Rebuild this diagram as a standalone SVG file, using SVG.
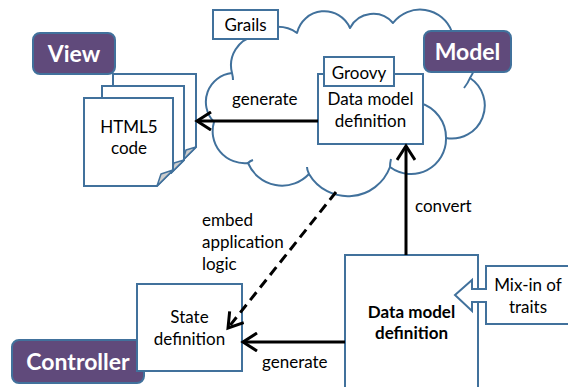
<svg xmlns="http://www.w3.org/2000/svg" width="568" height="387" viewBox="0 0 568 387">
<defs>
<style>
.box{fill:#fff;stroke:#41719c;stroke-width:2}
.tag{fill:#604a7b;stroke:#41719c;stroke-width:2}
.fold{fill:#cdcdcd;stroke:#41719c;stroke-width:1.5;stroke-linejoin:round}
.cloud{fill:#fff;stroke:#41719c;stroke-width:2;stroke-linejoin:round}
.tick{fill:none;stroke:#41719c;stroke-width:2}
.t{font-family:Lato,"Liberation Sans",sans-serif;font-size:17px;fill:#000;text-anchor:middle}
.tl{font-family:Lato,"Liberation Sans",sans-serif;font-size:17px;fill:#000}
.b{font-weight:bold}
.w{font-family:Lato,"Liberation Sans",sans-serif;font-size:23px;font-weight:bold;fill:#fff;text-anchor:middle}
.arr{fill:none;stroke:#000;stroke-width:3;marker-end:url(#open)}
.dash{stroke-dasharray:10 6}
</style>
<marker id="open" viewBox="0 0 20 20" markerWidth="20" markerHeight="20" refX="17" refY="10" orient="auto" markerUnits="userSpaceOnUse">
<path d="M3,1 L17,10 L3,19" fill="none" stroke="#000" stroke-width="3"/>
</marker>
</defs>

<g id="cloud">
<path class="cloud" d="M255,36 A33 33 0 0 1 297,33 A28 28 0 0 1 350,28 A26 26 0 0 1 393,23 A34 34 0 0 1 452,32 A30 30 0 0 1 470,78 A33 33 0 0 1 446,138 A35 35 0 0 1 390,167 A45 45 0 0 1 309,174 A37 37 0 0 1 248,163 A32 32 0 0 1 214,122 A29 29 0 0 1 232,73 A30 30 0 0 1 255,36 Z"/>
<path class="tick" d="M232,73 Q233,77 233,80 M248,163 Q250,161 253,160 M309,174 Q307,170 307,167 M390,167 Q390,163 391,159 M446,138 A36 36 0 0 0 420,103 M470,78 Q468,83 464,88"/>
</g>

<g id="grails">
<rect class="box" x="213" y="10" width="65" height="29"/>
<text class="t" x="245.5" y="31">Grails</text>
</g>

<g id="view">
<rect class="tag" x="33" y="33" width="82" height="41" rx="7"/>
<text class="w" x="74" y="62">View</text>
</g>

<g id="model">
<rect class="tag" x="424" y="31" width="87" height="41" rx="7"/>
<text class="w" x="467.5" y="60">Model</text>
</g>

<g id="controller">
<rect class="tag" x="12" y="340" width="132" height="43" rx="7"/>
<text class="w" x="78" y="370">Controller</text>
</g>

<g id="html5">
<path class="box" d="M113,74 H196 V147 L183,160 H113 Z"/>
<path class="fold" d="M183,160 L186,150 L196,147 Z"/>
<path class="box" d="M102,86 H184 V160 L171,173 H102 Z"/>
<path class="fold" d="M171,173 L174,163 L184,160 Z"/>
<path class="box" d="M84,98 H173 V170 L157,186 H84 Z"/>
<path class="fold" d="M157,186 L161,174 L173,170 Z"/>
<text class="t" x="129" y="133">HTML5</text>
<text class="t" x="129" y="154">code</text>
</g>

<g id="datamodel-groovy">
<rect class="box" x="318" y="74" width="105" height="70"/>
<rect class="box" x="324" y="57" width="70" height="29"/>
<text class="t" x="359" y="79">Groovy</text>
<text class="t" x="370.5" y="105">Data model</text>
<text class="t" x="370.5" y="127">definition</text>
</g>

<g id="state">
<rect class="box" x="137" y="284" width="105" height="87"/>
<text class="t" x="189.5" y="323">State</text>
<text class="t" x="189.5" y="345">definition</text>
</g>

<g id="datamodel">
<rect class="box" x="345" y="255" width="133" height="150"/>
<text class="t b" x="411.5" y="318">Data model</text>
<text class="t b" x="411.5" y="339">definition</text>
</g>

<g id="mixin">
<path class="box" d="M580,266 H486 V289 H472 V280 L455,295 L472,311 V302 H486 V324 H580"/>
<text class="t" x="528" y="291">Mix-in of</text>
<text class="t" x="528" y="313">traits</text>
</g>

<g id="connectors">
<line class="arr" x1="318" y1="121" x2="197" y2="121"/>
<line class="arr" x1="406" y1="255" x2="406" y2="146"/>
<line class="arr" x1="345" y1="342" x2="243" y2="342"/>
<line class="arr dash" x1="336" y1="192" x2="228" y2="328"/>
<text class="tl" x="232" y="105">generate</text>
<text class="tl" x="415" y="212">convert</text>
<text class="tl" x="262" y="368">generate</text>
<text class="tl" x="202" y="226">embed</text>
<text class="tl" x="202" y="248">application</text>
<text class="tl" x="202" y="270">logic</text>
</g>
</svg>
